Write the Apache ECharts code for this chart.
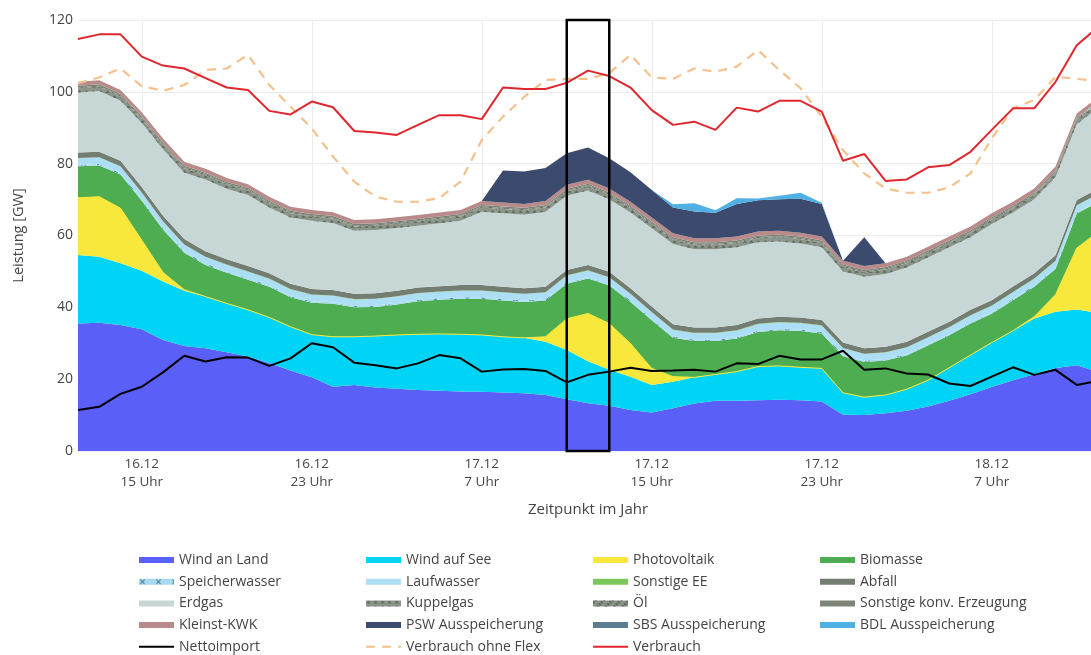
<!DOCTYPE html>
<html>
<head>
<meta charset="utf-8">
<script src="https://cdn.jsdelivr.net/npm/echarts@6/dist/echarts.min.js"></script>
<style>
  html, body { margin: 0; padding: 0; background: #fff; }
  #chart { width: 1091px; height: 655px; }
</style>
</head>
<body>
<div id="chart"></div>
<script>
// Hourly time stamps, 16.12 12 Uhr .. 18.12 12 Uhr
const zeitpunkte = [
  '16.12 12 Uhr','16.12 13 Uhr','16.12 14 Uhr','16.12 15 Uhr','16.12 16 Uhr','16.12 17 Uhr',
  '16.12 18 Uhr','16.12 19 Uhr','16.12 20 Uhr','16.12 21 Uhr','16.12 22 Uhr','16.12 23 Uhr',
  '17.12 0 Uhr','17.12 1 Uhr','17.12 2 Uhr','17.12 3 Uhr','17.12 4 Uhr','17.12 5 Uhr',
  '17.12 6 Uhr','17.12 7 Uhr','17.12 8 Uhr','17.12 9 Uhr','17.12 10 Uhr','17.12 11 Uhr',
  '17.12 12 Uhr','17.12 13 Uhr','17.12 14 Uhr','17.12 15 Uhr','17.12 16 Uhr','17.12 17 Uhr',
  '17.12 18 Uhr','17.12 19 Uhr','17.12 20 Uhr','17.12 21 Uhr','17.12 22 Uhr','17.12 23 Uhr',
  '18.12 0 Uhr','18.12 1 Uhr','18.12 2 Uhr','18.12 3 Uhr','18.12 4 Uhr','18.12 5 Uhr',
  '18.12 6 Uhr','18.12 7 Uhr','18.12 8 Uhr','18.12 9 Uhr','18.12 10 Uhr','18.12 11 Uhr',
  '18.12 12 Uhr'
];

// Generation in GW (stacked, bottom to top)
const windAnLand = [35.5,35.7,35.1,33.9,30.9,29.2,28.6,27.5,26.3,24.5,22.4,20.5,17.9,18.4,17.7,17.3,17.0,16.8,16.6,16.5,16.3,16.1,15.6,14.4,13.3,12.6,11.4,10.7,11.9,13.2,14.0,14.0,14.1,14.3,14.1,13.8,10.1,10.0,10.5,11.2,12.4,14.0,15.8,17.8,19.7,21.4,23.1,23.9,22.0];
const windAufSee = [19.1,18.4,17.2,16.3,16.3,15.4,14.4,13.6,13.0,12.7,12.2,11.9,13.9,13.4,14.3,15.0,15.5,15.8,15.9,15.8,15.5,15.4,14.8,13.7,11.7,10.0,9.3,7.7,7.4,7.3,7.3,8.1,9.4,9.4,9.2,9.2,6.1,5.0,5.1,6.0,7.3,9.2,10.9,12.4,13.8,15.5,15.7,15.5,16.5];
const photovoltaik = [15.9,16.7,15.3,8.5,2.5,0.3,0,0,0,0,0,0,0,0,0,0,0,0,0,0,0,0,1.4,8.7,13.3,12.9,9.2,4.6,1.4,0,0,0,0,0,0,0,0,0,0,0,0,0,0,0,0,0.5,4.7,17.1,22.5];
const biomasse = [8.8,8.7,9.4,11.0,12.0,10.3,8.8,8.5,8.4,8.5,8.2,8.9,9.2,8.2,8.1,8.5,9.2,9.5,9.9,10.1,10.1,10.0,10.1,9.8,9.7,10.6,11.6,13.4,10.8,10.1,9.3,9.2,9.6,9.9,10.1,9.7,10.2,9.8,9.6,9.4,9.7,9.0,8.8,8.0,8.5,8.3,7.2,9.6,8.2];
const speicherwasser = [0.4,0.4,0.4,0.4,0.4,0.4,0.4,0.4,0.4,0.4,0.4,0.4,0.4,0.4,0.4,0.4,0.4,0.4,0.4,0.4,0.4,0.4,0.4,0.4,0.4,0.4,0.4,0.4,0.4,0.4,0.4,0.4,0.4,0.4,0.4,0.4,0.4,0.4,0.4,0.4,0.4,0.4,0.4,0.4,0.4,0.4,0.4,0.4,0.4];
const laufwasser = [1.8,1.8,1.8,1.8,1.8,1.8,1.8,1.8,1.8,1.8,1.8,1.8,1.8,1.8,1.8,1.8,1.8,1.8,1.8,1.8,1.8,1.8,1.8,1.8,1.8,1.8,1.8,1.8,1.8,1.8,1.8,1.8,1.8,1.8,1.8,1.8,1.8,1.8,1.8,1.8,1.8,1.8,1.8,1.8,1.8,1.8,1.8,1.8,1.8];
const sonstigeEE = [0.1,0.1,0.1,0.1,0.1,0.1,0.1,0.1,0.1,0.1,0.1,0.1,0.1,0.1,0.1,0.1,0.1,0.1,0.1,0.1,0.1,0.1,0.1,0.1,0.1,0.1,0.1,0.1,0.1,0.1,0.1,0.1,0.1,0.1,0.1,0.1,0.1,0.1,0.1,0.1,0.1,0.1,0.1,0.1,0.1,0.1,0.1,0.1,0.1];
const abfall = [1.5,1.5,1.5,1.5,1.5,1.5,1.5,1.5,1.5,1.5,1.5,1.5,1.5,1.5,1.5,1.5,1.5,1.5,1.5,1.5,1.5,1.5,1.5,1.5,1.5,1.5,1.5,1.5,1.5,1.5,1.5,1.5,1.5,1.5,1.5,1.5,1.5,1.5,1.5,1.5,1.5,1.5,1.5,1.5,1.5,1.5,1.5,1.5,1.5];
const erdgas = [16.7,16.9,16.7,17.8,18.5,18.5,20.0,19.6,19.8,18.3,18.4,19.0,18.7,17.5,17.6,17.5,17.2,17.5,17.9,20.4,20.5,20.5,20.9,20.7,20.7,20.2,21.1,21.8,22.3,21.8,21.8,21.6,21.2,20.9,20.6,20.2,19.8,19.9,20.3,20.7,20.7,20.7,20.2,21.2,20.6,20.6,21.7,21.1,22.5];
const kuppelgas = [1.2,1.2,1.2,1.2,1.2,1.2,1.2,1.2,1.2,1.2,1.2,1.2,1.2,1.2,1.2,1.2,1.2,1.2,1.2,1.2,1.2,1.2,1.2,1.2,1.2,1.2,1.2,1.2,1.2,1.2,1.2,1.2,1.2,1.2,1.2,1.2,1.2,1.2,1.2,1.2,1.2,1.2,1.2,1.2,1.2,1.2,1.2,1.2,1.2];
const oel = [0.3,0.3,0.3,0.3,0.3,0.3,0.3,0.3,0.3,0.3,0.3,0.3,0.3,0.3,0.3,0.3,0.3,0.3,0.3,0.3,0.3,0.3,0.3,0.3,0.3,0.3,0.3,0.3,0.3,0.3,0.3,0.3,0.3,0.3,0.3,0.3,0.3,0.3,0.3,0.3,0.3,0.3,0.3,0.3,0.3,0.3,0.3,0.3,0.3];
const sonstigeKonv = [0.4,0.4,0.4,0.4,0.4,0.4,0.4,0.4,0.4,0.4,0.4,0.4,0.4,0.4,0.4,0.4,0.4,0.4,0.4,0.4,0.4,0.4,0.4,0.4,0.4,0.4,0.4,0.4,0.4,0.4,0.4,0.4,0.4,0.4,0.4,0.4,0.4,0.4,0.4,0.4,0.4,0.4,0.4,0.4,0.4,0.4,0.4,0.4,0.4];
const kleinstKWK = [1.1,1.1,1.1,1.1,1.1,1.1,1.1,1.1,1.1,1.1,1.1,1.1,1.1,1.1,1.1,1.1,1.1,1.1,1.1,1.1,1.1,1.1,1.1,1.1,1.1,1.1,1.1,1.1,1.1,1.1,1.1,1.1,1.1,1.1,1.1,1.1,1.1,1.1,1.1,1.1,1.1,1.1,1.1,1.1,1.1,1.1,1.1,1.1,1.1];
const pswAus = [0,0,0,0,0,0,0,0,0,0,0,0,0,0,0,0,0,0,0,0,8.9,9.0,9.2,8.8,9.0,8.4,8.2,7.7,7.2,7.5,7.1,9.1,8.7,8.8,9.4,9.1,0,8.0,0,0,0,0,0,0,0,0,0,0,0];
const sbsAus = [0,0,0,0,0,0,0,0,0,0,0,0,0,0,0,0,0,0,0,0,0,0,0,0,0,0,0,0,0,0,0,0,0,0,0,0,0,0,0,0,0,0,0,0,0,0,0,0,0];
const bdlAus = [0,0,0,0,0,0,0,0,0,0,0,0,0,0,0,0,0,0,0,0,0,0,0,0,0,0,0,0,0.9,2.3,0.7,1.6,0.5,1.0,1.7,0.3,0,0,0,0,0,0,0,0,0,0,0,0,0];

// Lines (not stacked)
const nettoimport = [11.4,12.3,15.9,17.9,21.9,26.5,24.9,26.1,26.0,23.7,25.8,30.0,28.9,24.6,23.9,23.0,24.4,26.7,25.8,22.1,22.7,22.8,22.3,19.1,21.2,22.1,23.2,22.3,22.4,22.6,22.1,24.4,24.2,26.5,25.5,25.5,27.9,22.6,23.0,21.6,21.3,18.8,18.1,20.7,23.3,21.2,22.6,18.4,19.5];
const verbrauchOhneFlex = [102.4,104.0,106.5,101.6,100.3,101.9,106.1,106.5,110.3,101.9,95.9,89.8,82.0,75.0,70.8,69.4,69.4,70.4,75.0,86.6,93.1,98.6,103.3,103.6,103.6,105.2,110.3,104.0,103.6,106.5,105.6,107.0,111.6,106.1,101.0,93.1,83.8,77.3,73.1,71.9,71.9,73.4,77.3,87.0,95.4,97.7,104.2,103.6,103.0];
const verbrauch = [114.7,116.0,116.0,109.8,107.3,106.5,103.8,101.2,100.5,94.7,93.7,97.3,95.7,89.1,88.7,88.0,90.8,93.5,93.5,92.4,101.2,100.8,100.8,102.5,105.9,104.4,101.2,94.9,90.8,91.7,89.4,95.6,94.5,97.5,97.5,94.5,80.8,82.7,75.2,75.6,79.0,79.6,83.3,89.4,95.4,95.4,102.8,113.0,118.0];

// Highlighted time window
const markierung = ['17.12 11 Uhr', '17.12 13 Uhr'];

// Y-axis ticks
const yTicks = { min: 0, max: 120, step: 20 };

const FONT = "'Open Sans', 'DejaVu Sans', sans-serif";
const TXT = '#444';

function area(name, data, color, extra) {
  return Object.assign({
    name: name,
    type: 'line',
    stack: 'erzeugung',
    data: data,
    symbol: 'none',
    smooth: false,
    color: color,
    lineStyle: { width: 0, color: color },
    areaStyle: { color: color, opacity: 1 },
    itemStyle: { color: color },
    emphasis: { disabled: true },
    z: 2
  }, extra || {});
}

const xMark = 'path://M0 0L3 0L10 7L17 0L20 0L20 3L13 10L20 17L20 20L17 20L10 13L3 20L0 20L0 17L7 10L0 3Z';
const decalSpeicher = { symbol: xMark, symbolSize: 0.8, color: '#4f7f9f', dashArrayX: [7, 9], dashArrayY: [6, 2] };
const decalKuppel = { symbol: 'triangle', symbolSize: 0.9, color: '#5d685c', dashArrayX: [5, 2], dashArrayY: [3, 2] };
const decalOel = { symbol: 'rect', rotation: Math.PI / 4, symbolSize: 1, color: '#626c60', dashArrayX: [3, 3], dashArrayY: [2, 1] };

const series = [
  area('Wind an Land', windAnLand, '#5a5ff7'),
  area('Wind auf See', windAufSee, '#00d4f6'),
  area('Photovoltaik', photovoltaik, '#f8e83c', { lineStyle: { width: 1, color: '#f8e83c' } }),
  area('Biomasse', biomasse, '#4dad50'),
  area('Speicherwasser', speicherwasser, '#a6dbf2', {
    itemStyle: { color: '#a6dbf2', decal: decalSpeicher },
    areaStyle: { color: '#a6dbf2', opacity: 1, decal: decalSpeicher }
  }),
  area('Laufwasser', laufwasser, '#acdff5'),
  area('Sonstige EE', sonstigeEE, '#7cc75a'),
  area('Abfall', abfall, '#747d71'),
  area('Erdgas', erdgas, '#c6d7d6'),
  area('Kuppelgas', kuppelgas, '#8b958a', {
    itemStyle: { color: '#8b958a', decal: decalKuppel },
    areaStyle: { color: '#8b958a', opacity: 1, decal: decalKuppel }
  }),
  area('Öl', oel, '#8a9388', {
    itemStyle: { color: '#8a9388', decal: decalOel },
    areaStyle: { color: '#8a9388', opacity: 1, decal: decalOel }
  }),
  area('Sonstige konv. Erzeugung', sonstigeKonv, '#7b8476'),
  area('Kleinst-KWK', kleinstKWK, '#b88a8a'),
  area('PSW Ausspeicherung', pswAus, '#3c4b6d'),
  area('SBS Ausspeicherung', sbsAus, '#5d7c90'),
  area('BDL Ausspeicherung', bdlAus, '#4fb0e3'),
  {
    name: 'Nettoimport', type: 'line', data: nettoimport, symbol: 'none',
    color: '#000', lineStyle: { width: 2, color: '#000' }, itemStyle: { color: '#000' },
    emphasis: { disabled: true }, z: 5
  },
  {
    name: 'Verbrauch ohne Flex', type: 'line', data: verbrauchOhneFlex, symbol: 'none',
    color: '#f5c08c', lineStyle: { width: 2.2, color: '#f5c08c', type: [9, 7] }, itemStyle: { color: '#f5c08c' },
    emphasis: { disabled: true }, z: 5
  },
  {
    name: 'Verbrauch', type: 'line', data: verbrauch, symbol: 'none',
    color: '#e0272e', lineStyle: { width: 2, color: '#e0272e' }, itemStyle: { color: '#e0272e' },
    emphasis: { disabled: true }, z: 6,
    markArea: {
      silent: true,
      z: 10,
      itemStyle: { color: 'rgba(0,0,0,0)', borderColor: '#000', borderWidth: 2.5 },
      label: { show: false },
      data: [[{ xAxis: markierung[0], yAxis: yTicks.min }, { xAxis: markierung[1], yAxis: yTicks.max }]]
    }
  }
];

const lineNames = ['Nettoimport', 'Verbrauch ohne Flex', 'Verbrauch'];
const legendColumns = [
  ['Wind an Land', 'Speicherwasser', 'Erdgas', 'Kleinst-KWK', 'Nettoimport'],
  ['Wind auf See', 'Laufwasser', 'Kuppelgas', 'PSW Ausspeicherung', 'Verbrauch ohne Flex'],
  ['Photovoltaik', 'Sonstige EE', 'Öl', 'SBS Ausspeicherung', 'Verbrauch'],
  ['Biomasse', 'Abfall', 'Sonstige konv. Erzeugung', 'BDL Ausspeicherung']
];
const legendLeft = [138, 365, 592, 820];

const legends = legendColumns.map((col, i) => ({
  orient: 'vertical',
  left: legendLeft[i],
  top: 553,
  height: 120,
  padding: 0,
  itemWidth: 35,
  itemHeight: 6,
  itemGap: 7.7,
  selectedMode: false,
  textStyle: { fontSize: 14, color: TXT, fontFamily: FONT },
  data: col.map(n => lineNames.includes(n)
    ? { name: n, itemStyle: { opacity: 0 } }
    : { name: n, icon: 'rect' })
}));

const chart = echarts.init(document.getElementById('chart'), null, { renderer: 'canvas' });
chart.setOption({
  animation: false,
  backgroundColor: '#fff',
  textStyle: { fontFamily: FONT },
  grid: { left: 78, right: -7, top: 20, bottom: 204, containLabel: false, outerBoundsMode: 'none' },
  legend: legends,
  xAxis: {
    type: 'category',
    data: zeitpunkte,
    boundaryGap: false,
    name: 'Zeitpunkt im Jahr',
    nameLocation: 'middle',
    nameGap: 51,
    nameTextStyle: { fontSize: 15, color: TXT, fontFamily: FONT },
    axisLine: { show: false },
    axisTick: { show: false },
    axisLabel: {
      interval: (i) => i % 8 === 3,
      formatter: (v) => v.replace(' ', '\n'),
      fontSize: 13.5, color: TXT, lineHeight: 18, margin: 4, fontFamily: FONT
    },
    splitLine: { show: true, interval: (i) => i % 8 === 3, lineStyle: { color: '#ececec', width: 1 } }
  },
  yAxis: {
    type: 'value',
    min: yTicks.min, max: yTicks.max, interval: yTicks.step,
    name: 'Leistung [GW]',
    nameLocation: 'middle',
    nameGap: 52,
    nameTextStyle: { fontSize: 14.5, color: TXT, fontFamily: FONT },
    axisLine: { show: false },
    axisTick: { show: false },
    axisLabel: { fontSize: 14, color: TXT, margin: 5, fontFamily: FONT },
    splitLine: { show: true, lineStyle: { color: '#ececec', width: 1 } }
  },
  series: series
});
</script>
</body>
</html>
